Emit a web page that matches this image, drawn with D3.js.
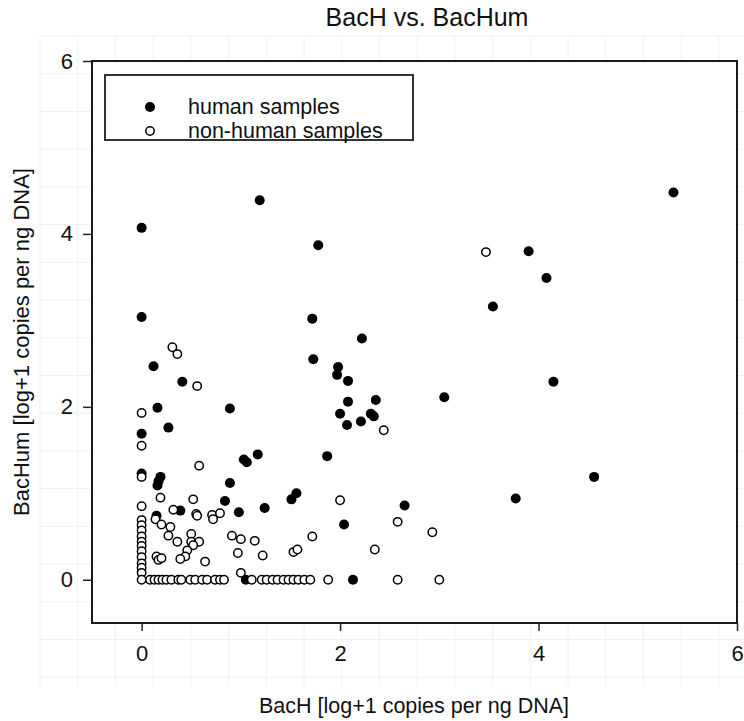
<!DOCTYPE html>
<html>
<head>
<meta charset="utf-8">
<script src="https://cdn.jsdelivr.net/npm/d3@7"></script>
<style>
  body { margin: 0; background: #fff; }
  svg { display: block; font-family: "Liberation Sans", Arial, sans-serif; }
</style>
</head>
<body>
<svg id="chart"></svg>
<script>
const W = 744;
const H = 721;

// human samples (filled)
const humanX = [0, 0, 0, 0, 0.12, 0.16, 0.19, 0.17, 0.16, 0.15, 0.27, 0.39, 0.41, 0.84, 0.89, 0.89, 0.98, 1.03, 1.06, 1.17, 1.19, 1.24, 1.05, 1.51, 1.56, 1.72, 1.73, 1.78, 1.87, 1.97, 1.98, 2.00, 2.04, 2.07, 2.08, 2.08, 2.13, 2.21, 2.22, 2.31, 2.34, 2.36, 2.65, 3.05, 3.54, 3.77, 3.90, 4.08, 4.15, 4.56, 5.36];
const humanY = [4.07, 3.04, 1.69, 1.23, 2.47, 1.99, 1.19, 1.14, 1.09, 0.74, 1.76, 0.80, 2.29, 0.91, 1.98, 1.12, 0.78, 1.39, 1.36, 1.45, 4.39, 0.83, 0, 0.93, 1.00, 3.02, 2.55, 3.87, 1.43, 2.37, 2.46, 1.92, 0.64, 1.79, 2.06, 2.30, 0, 1.83, 2.79, 1.92, 1.89, 2.08, 0.86, 2.11, 3.16, 0.94, 3.80, 3.49, 2.29, 1.19, 4.48];

// non-human samples (open)
const nonHumanX = [
  0, 0, 0, 0, 0, 0, 0, 0, 0, 0, 0, 0, 0, 0, 0, 0,
  0.085, 0.13, 0.17, 0.21, 0.25, 0.30, 0.37, 0.40, 0.49, 0.54, 0.61, 0.66, 0.74, 0.79, 0.83,
  1.11, 1.21, 1.26, 1.32, 1.37, 1.43, 1.48, 1.53, 1.58, 1.64, 1.70, 1.88, 2.58, 3.00,
  0.31, 0.36, 0.56, 0.58, 0.19, 0.52, 0.32, 0.55, 0.56, 0.71, 0.72, 0.79, 0.14, 0.20, 0.29,
  0.27, 0.36, 0.50, 0.50, 0.58, 0.52, 0.46, 0.44, 0.39, 0.64, 0.15, 0.17, 0.20, 0.91, 1.00,
  1.14, 0.97, 1.22, 1.00, 1.72, 1.53, 1.57, 2.00, 2.44, 2.58, 2.93, 2.35, 3.47
];
const nonHumanY = [
  1.93, 1.55, 1.19, 0.85, 0.69, 0.63, 0.57, 0.50, 0.44, 0.39, 0.33, 0.26, 0.19, 0.14, 0.08, 0,
  0, 0, 0, 0, 0, 0, 0, 0, 0, 0, 0, 0, 0, 0, 0,
  0, 0, 0, 0, 0, 0, 0, 0, 0, 0, 0, 0, 0, 0,
  2.69, 2.61, 2.24, 1.32, 0.95, 0.93, 0.81, 0.76, 0.74, 0.75, 0.70, 0.77, 0.70, 0.64, 0.61,
  0.51, 0.44, 0.53, 0.44, 0.44, 0.40, 0.34, 0.27, 0.24, 0.21, 0.27, 0.23, 0.25, 0.51, 0.47,
  0.45, 0.31, 0.28, 0.08, 0.50, 0.32, 0.35, 0.92, 1.73, 0.67, 0.55, 0.35, 3.79
];

const xTicks = [0, 2, 4, 6];
const yTicks = [0, 2, 4, 6];
const legendLabels = ["human samples", "non-human samples"];

const svg = d3.select("#chart").attr("width", W).attr("height", H);

// faint background grid
const gridStep = 37.72;
const grid = svg.append("g").attr("stroke", "#f1f1f1").attr("stroke-width", 1);
d3.range(40, W + 1, gridStep).forEach(gx => {
  grid.append("line").attr("x1", gx).attr("x2", gx).attr("y1", 36).attr("y2", 686);
});
d3.range(36, 690, gridStep).forEach(gy => {
  grid.append("line").attr("x1", 40).attr("x2", W).attr("y1", gy).attr("y2", gy);
});

const x = d3.scaleLinear().domain([-0.5, 6]).range([92, 737]);
const y = d3.scaleLinear().domain([-0.5, 6]).range([623, 61]);

// plot box background
svg.append("rect")
  .attr("x", x(-0.5)).attr("y", y(6))
  .attr("width", x(6) - x(-0.5)).attr("height", y(-0.5) - y(6))
  .attr("fill", "#fff");

// Axes
const xAxis = svg.append("g")
  .attr("transform", `translate(0,${y(-0.5)})`)
  .call(d3.axisBottom(x).tickValues(xTicks).tickSize(8).tickPadding(14).tickFormat(d3.format("d")));
const yAxis = svg.append("g")
  .attr("transform", `translate(${x(-0.5)},0)`)
  .call(d3.axisLeft(y).tickValues(yTicks).tickSize(9).tickPadding(10).tickFormat(d3.format("d")));
[xAxis, yAxis].forEach(a => {
  a.select(".domain").remove();
  a.selectAll("line").attr("stroke", "#222").attr("stroke-width", 1.5);
  a.selectAll("text").attr("fill", "#111").style("font-size", "22px")
    .style("font-family", "'Liberation Sans', Arial, sans-serif");
});

// box
svg.append("rect")
  .attr("x", x(-0.5)).attr("y", y(6))
  .attr("width", x(6) - x(-0.5)).attr("height", y(-0.5) - y(6))
  .attr("fill", "none").attr("stroke", "#1a1a1a").attr("stroke-width", 2);

// Points
svg.append("g")
  .selectAll("circle")
  .data(d3.zip(humanX, humanY))
  .join("circle")
  .attr("cx", d => x(d[0]))
  .attr("cy", d => y(d[1]))
  .attr("r", 5)
  .attr("fill", "#000");

svg.append("g")
  .selectAll("circle")
  .data(d3.zip(nonHumanX, nonHumanY))
  .join("circle")
  .attr("cx", d => x(d[0]))
  .attr("cy", d => y(d[1]))
  .attr("r", 4.2)
  .attr("fill", "#fff")
  .attr("stroke", "#000")
  .attr("stroke-width", 1.5);

// Legend
const lg = svg.append("g");
lg.append("rect")
  .attr("x", 105).attr("y", 75).attr("width", 308).attr("height", 65)
  .attr("fill", "#fff").attr("stroke", "#333").attr("stroke-width", 2);
legendLabels.forEach((lab, i) => {
  const cy = 107 + i * 24;
  if (i === 0) {
    lg.append("circle").attr("cx", 150).attr("cy", cy).attr("r", 5).attr("fill", "#000");
  } else {
    lg.append("circle").attr("cx", 150).attr("cy", cy).attr("r", 4.2)
      .attr("fill", "#fff").attr("stroke", "#000").attr("stroke-width", 1.5);
  }
  lg.append("text").attr("x", 188).attr("y", cy + 7)
    .style("font-size", "21.5px").attr("fill", "#111").text(lab);
});

// Title
svg.append("text")
  .attr("x", 427).attr("y", 26)
  .attr("text-anchor", "middle")
  .style("font-size", "25px").attr("fill", "#111")
  .text("BacH vs. BacHum");

// Labels
svg.append("text")
  .attr("x", 414).attr("y", 713)
  .attr("text-anchor", "middle")
  .style("font-size", "21.5px").attr("fill", "#111")
  .text("BacH [log+1 copies per ng DNA]");

svg.append("text")
  .attr("transform", "rotate(-90)")
  .attr("x", -342).attr("y", 29)
  .attr("text-anchor", "middle")
  .style("font-size", "22px").attr("fill", "#111")
  .text("BacHum [log+1 copies per ng DNA]");
</script>
</body>
</html>
